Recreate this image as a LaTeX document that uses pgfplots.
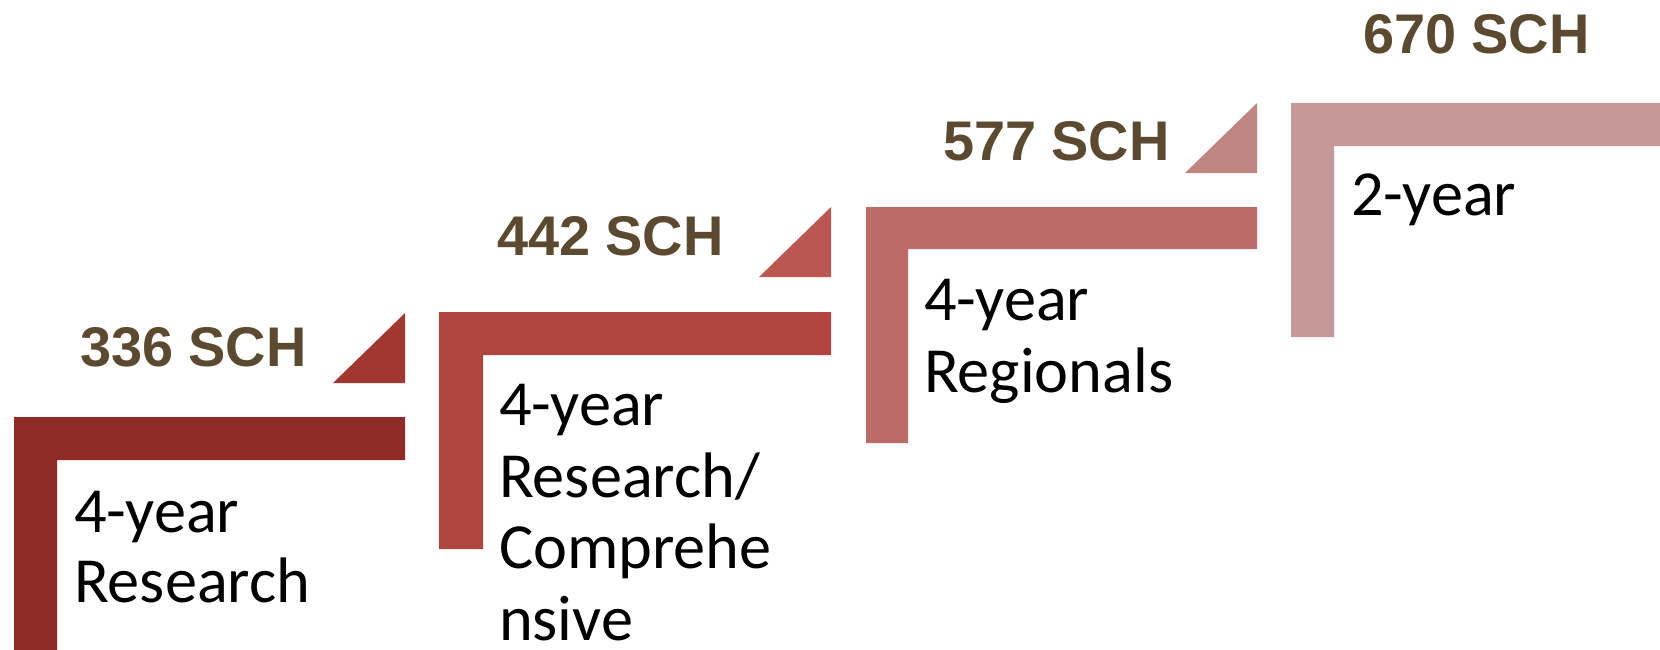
\documentclass[border=0pt]{standalone}
\usepackage{pgfplots}
\pgfplotsset{compat=1.18}
\usepackage{fontspec}
\setmainfont{Carlito}
\newfontfamily\arialfont{Liberation Sans}
\definecolor{cStepA}{HTML}{8F2A26}
\definecolor{cTriA}{HTML}{A23631}
\definecolor{cStepB}{HTML}{B0443E}
\definecolor{cTriB}{HTML}{BB5651}
\definecolor{cStepC}{HTML}{BC6B68}
\definecolor{cTriC}{HTML}{C08481}
\definecolor{cStepD}{HTML}{C49998}
\definecolor{cLab}{HTML}{5B4A2F}

\begin{document}
\begin{tikzpicture}
\path[use as bounding box] (0,0) rectangle (16.6,6.5);
\tikzset{
  val/.style={anchor=base west, inner sep=0pt, outer sep=0pt, text=cLab,
    font=\arialfont\bfseries\fontsize{15.9}{18}\selectfont},
  cat/.style={anchor=base west, inner sep=0pt, outer sep=0pt, text=black,
    font=\fontsize{18.3}{21}\selectfont},
}
\begin{axis}[
  at={(0,0)}, anchor=south west,
  scale only axis, width=16.6cm, height=6.5cm,
  xmin=0, xmax=1660, ymin=0, ymax=650, y dir=reverse,
  hide axis, clip=true,
]
% steps (L shapes), pixel coordinates
\addplot[fill=cStepA, draw=none] coordinates {(14,417) (405,417) (405,460) (57,460) (57,660) (14,660)};
\addplot[fill=cStepB, draw=none] coordinates {(439,312) (831,312) (831,355) (483,355) (483,549) (439,549)};
\addplot[fill=cStepC, draw=none] coordinates {(866,207) (1257,207) (1257,249) (908,249) (908,443) (866,443)};
\addplot[fill=cStepD, draw=none] coordinates {(1291,103) (1670,103) (1670,146) (1334,146) (1334,337) (1291,337)};
% triangles
\addplot[fill=cTriA, draw=none] coordinates {(333,383) (405,383) (405,313)};
\addplot[fill=cTriB, draw=none] coordinates {(759,277) (831,277) (831,207)};
\addplot[fill=cTriC, draw=none] coordinates {(1185,173) (1257,173) (1257,103)};

% value labels
\node[val] at (axis cs:80,366) {336 SCH};
\node[val] at (axis cs:497,255) {442 SCH};
\node[val] at (axis cs:943,160) {577 SCH};
\node[val] at (axis cs:1363,53) {670 SCH};

% category labels
\node[cat] at (axis cs:74,532) {4-year};
\node[cat] at (axis cs:74,602) {Research};
\node[cat] at (axis cs:499,425) {4-year};
\node[cat] at (axis cs:499,497) {Research/};
\node[cat] at (axis cs:499,568) {Comprehe};
\node[cat] at (axis cs:499,640) {nsive};
\node[cat] at (axis cs:924,320) {4-year};
\node[cat] at (axis cs:924,392) {Regionals};
\node[cat] at (axis cs:1351,215) {2-year};
\end{axis}
\end{tikzpicture}
\end{document}
